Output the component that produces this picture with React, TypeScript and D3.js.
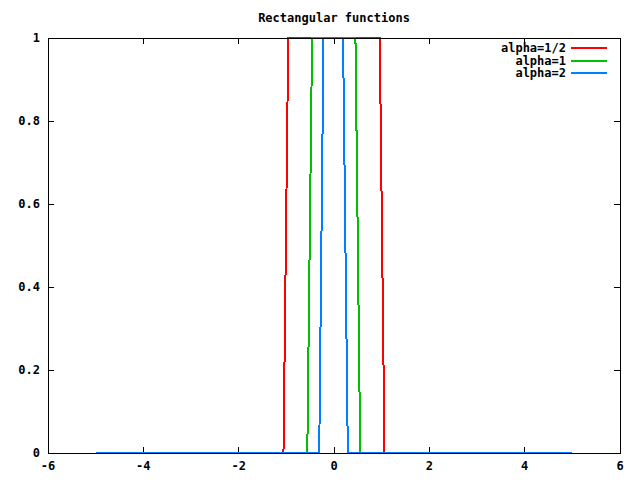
import { scaleLinear, line } from "d3";

// edge points (x, y)
const xTicks = [-6, -4, -2, 0, 2, 4, 6];
const yTicks = [0, 0.2, 0.4, 0.6, 0.8, 1];
const yTickLabels = ["0", "0.2", "0.4", "0.6", "0.8", "1"];

const halfX = [-5, -1.06, -0.96, 0.96, 1.06, 5];
const halfY = [0, 0, 1, 1, 0, 0];
const oneX = [-5, -0.56, -0.46, 0.45, 0.55, 5];
const oneY = [0, 0, 1, 1, 0, 0];
const twoX = [-5, -0.31, -0.22, 0.19, 0.29, 5];
const twoY = [0, 0, 1, 1, 0, 0];

const seriesNames = ["alpha=1/2", "alpha=1", "alpha=2"];
const seriesColors = ["#ff0000", "#00c000", "#0080ff"];

export default function App() {
  const width = 640;
  const height = 480;
  const margin = { top: 38, right: 20, bottom: 27, left: 48 };
  const x = scaleLinear().domain([-6, 6]).range([margin.left, width - margin.right]);
  const y = scaleLinear().domain([0, 1]).range([height - margin.bottom, margin.top]);

  const series = [
    halfX.map((v, i) => [v, halfY[i]] as [number, number]),
    oneX.map((v, i) => [v, oneY[i]] as [number, number]),
    twoX.map((v, i) => [v, twoY[i]] as [number, number]),
  ];
  const path = line<[number, number]>()
    .x((d) => x(d[0]))
    .y((d) => y(d[1]));

  const font = { fontFamily: "'DejaVu Sans Mono', monospace", fontWeight: "bold" as const, fontSize: 12 };
  const x0 = margin.left;
  const x1 = width - margin.right;
  const y0 = height - margin.bottom;
  const y1 = margin.top;

  return (
    <svg width={width} height={height} style={{ position: "absolute", left: 0, top: 0, background: "#fff" }}>
      <text x={x(0)} y={22} textAnchor="middle" {...font}>
        Rectangular functions
      </text>

      {yTicks.map((t, i) => (
        <g key={"y" + t}>
          <line x1={x0} x2={x0 + 6} y1={y(t)} y2={y(t)} stroke="#000" shapeRendering="crispEdges" />
          <line x1={x1} x2={x1 - 6} y1={y(t)} y2={y(t)} stroke="#000" shapeRendering="crispEdges" />
          <text x={x0 - 8} y={y(t) + 4} textAnchor="end" {...font}>
            {yTickLabels[i]}
          </text>
        </g>
      ))}
      {xTicks.map((t) => (
        <g key={"x" + t}>
          <line x1={x(t)} x2={x(t)} y1={y0} y2={y0 - 6} stroke="#000" shapeRendering="crispEdges" />
          <line x1={x(t)} x2={x(t)} y1={y1} y2={y1 + 6} stroke="#000" shapeRendering="crispEdges" />
          <text x={x(t)} y={y0 + 17} textAnchor="middle" {...font}>
            {t}
          </text>
        </g>
      ))}

      {series.map((s, i) => (
        <path key={i} d={path(s) ?? ""} fill="none" stroke={seriesColors[i]} strokeWidth={2} shapeRendering="crispEdges" />
      ))}

      <rect x={x0 + 0.5} y={y1 + 0.5} width={x1 - x0} height={y0 - y1} fill="none" stroke="#000" shapeRendering="crispEdges" />

      {seriesNames.map((n, i) => (
        <g key={n}>
          <text x={566} y={52 + i * 12.5} textAnchor="end" {...font}>
            {n}
          </text>
          <line x1={571} x2={607} y1={48 + i * 12.5} y2={48 + i * 12.5} stroke={seriesColors[i]} strokeWidth={2} shapeRendering="crispEdges" />
        </g>
      ))}
    </svg>
  );
}
